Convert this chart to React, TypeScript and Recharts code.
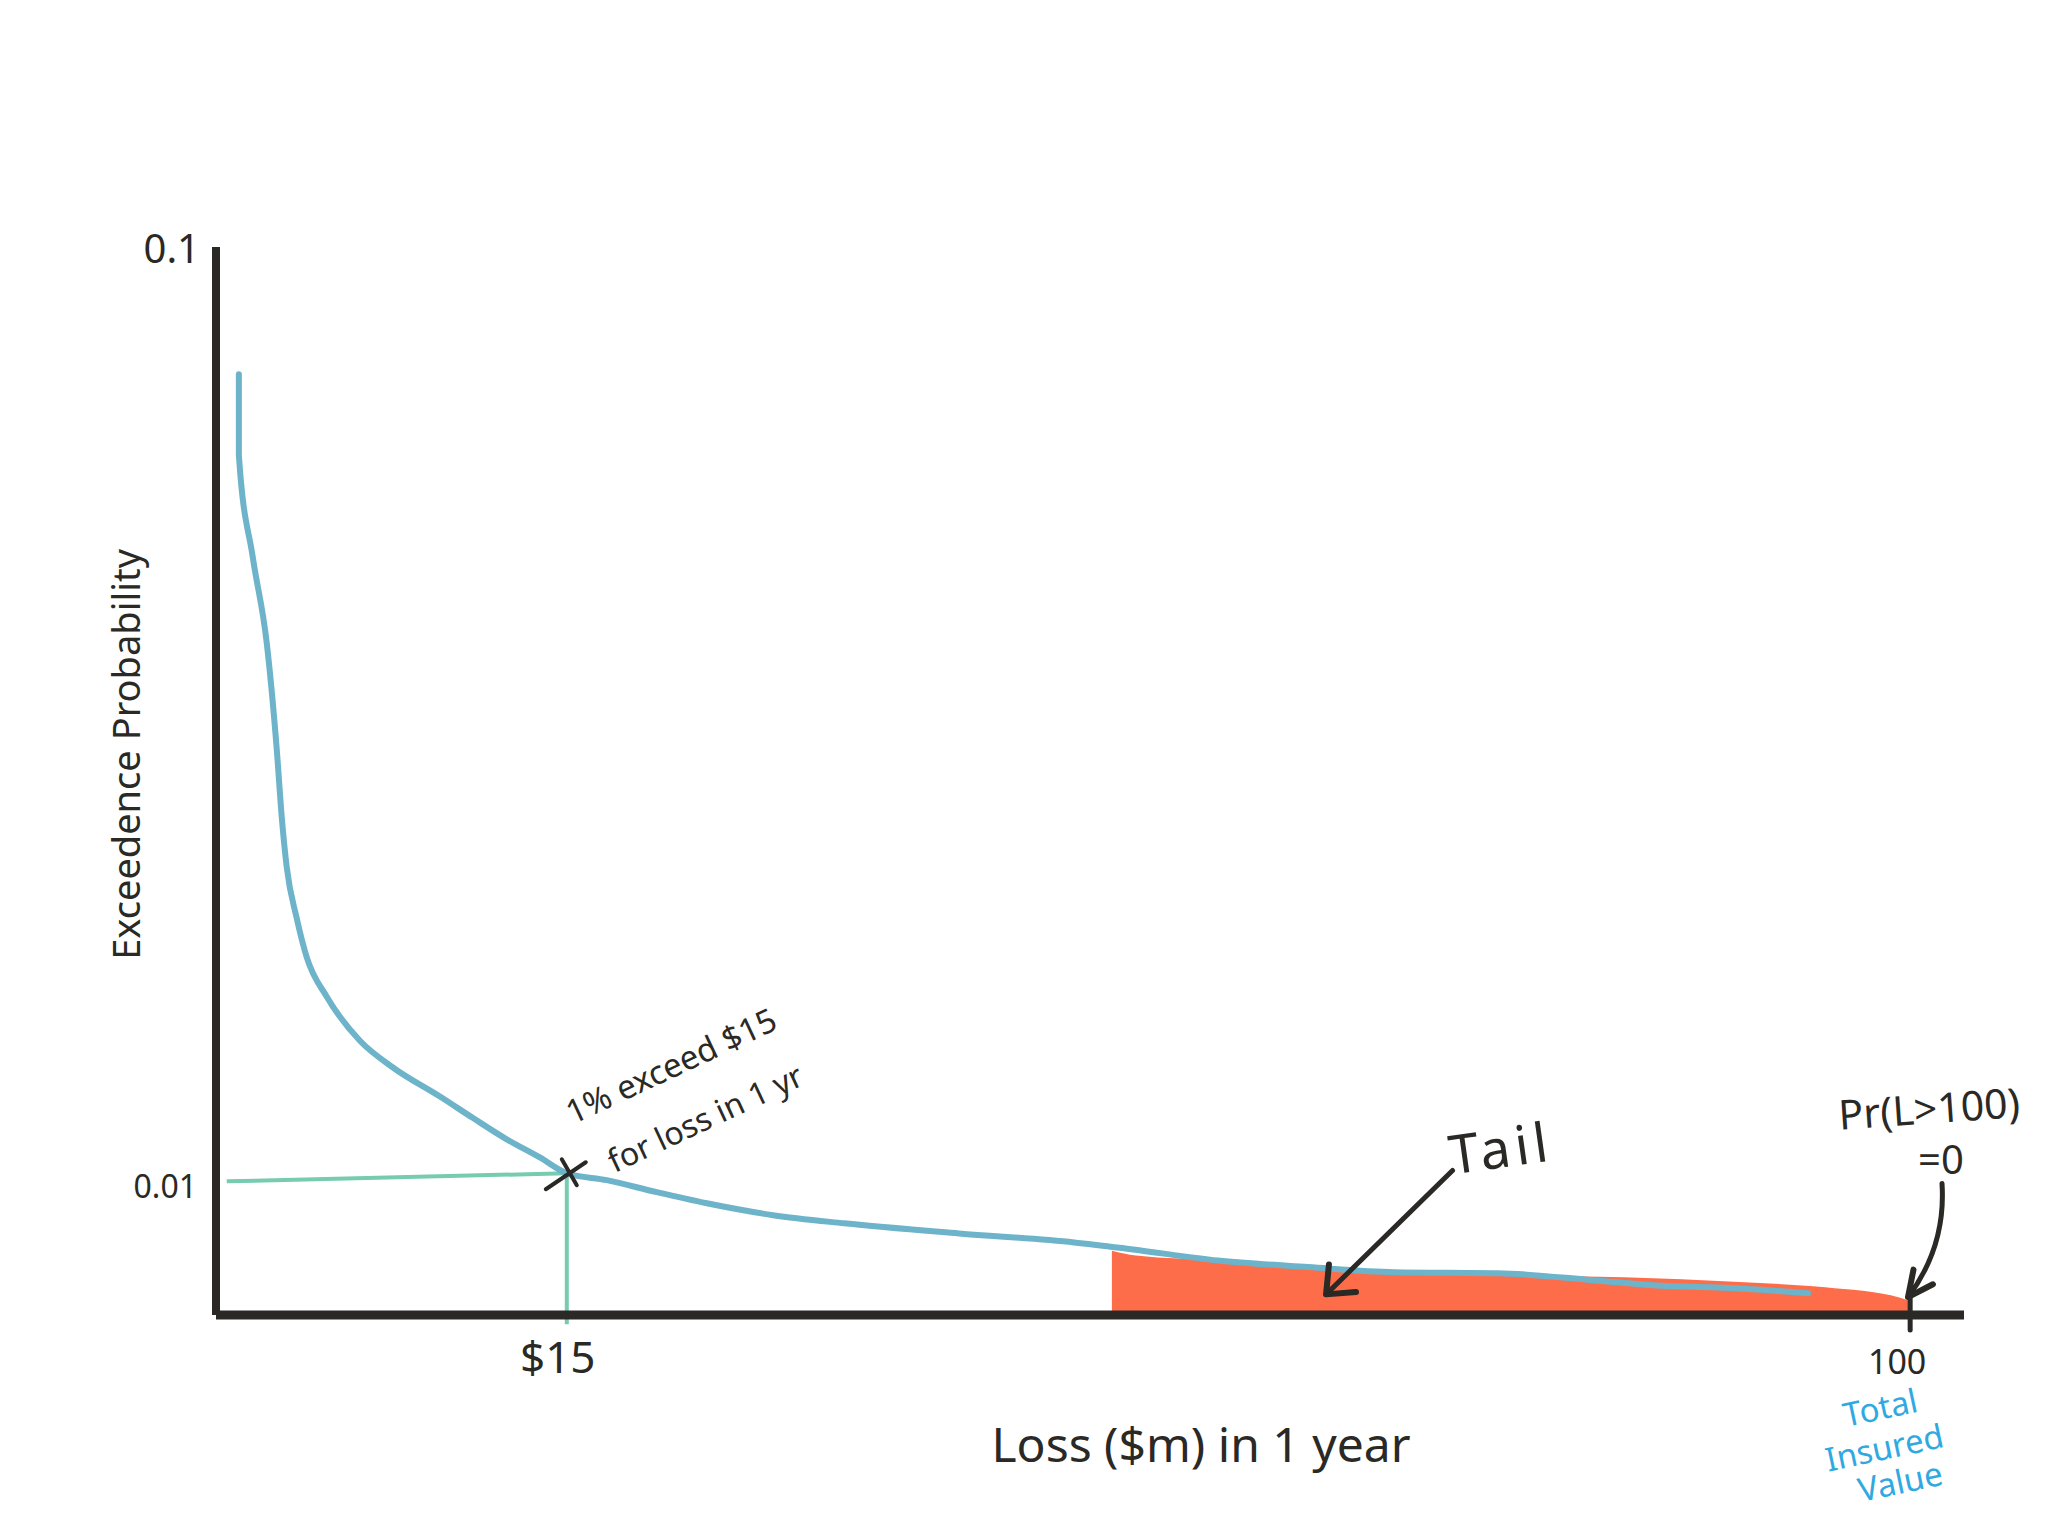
import {
  Area,
  ComposedChart,
  Label,
  Line,
  ReferenceLine,
  Scatter,
  XAxis,
  YAxis,
} from "recharts";

// exceedance curve (loss in $m, log-log axes)
const curveLoss = [
  9.44, 9.44, 9.63, 9.82, 9.96, 10.03, 10.1, 10.24, 10.39, 10.69, 11.2, 11.74,
  12.54, 13.14, 13.78, 14.44, 15, 15.87, 17.03, 18.28, 20.07, 22.19, 26.1,
  30.71, 33.28, 37.63, 42.73, 48.26, 55.89, 64.11, 69.57, 78.56, 86.58,
];
const curveProb = [
  0.0729, 0.0596, 0.0461, 0.0373, 0.0286, 0.0242, 0.0214, 0.0189, 0.0171,
  0.0155, 0.0139, 0.013, 0.0121, 0.01147, 0.01088, 0.0104, 0.01, 0.00983,
  0.00954, 0.00928, 0.00901, 0.00883, 0.00861, 0.00842, 0.00828, 0.00805,
  0.00792, 0.00782, 0.0078, 0.00766, 0.00757, 0.00751, 0.00742,
];

// shaded tail region
const tailLoss = [
  32.39, 33.51, 37.84, 42.73, 48.26, 56.77, 66.77, 78.56, 88.69, 98.6, 99.7,
];
const tailProb = [
  0.00825, 0.00815, 0.00805, 0.00792, 0.00782, 0.00776, 0.00772, 0.00763,
  0.00753, 0.00734, 0.00729,
];

const xTicks = [15, 100];
const xTickLabels = ["$15", "100"];
const yTicks = [0.01, 0.1];
const yTickLabels = ["0.01", "0.1"];

const markLoss = 15;
const markProb = 0.01;
const guideStartLoss = 9.28;
const guideStartProb = 0.0098;
const guideEndProb = 0.00687;

const tailArrow = [
  { x: 52.4, y: 0.01007 },
  { x: 43.83, y: 0.0074 },
];
const zeroArrow = [
  { x: 104.6, y: 0.00975 },
  { x: 99.7, y: 0.00735 },
];

const curveData = curveLoss.map((loss, i) => ({ loss, p: curveProb[i] }));
const tailData = tailLoss.map((loss, i) => ({ loss, p: tailProb[i] }));
const markData = [{ loss: markLoss, p: markProb }];

const INK = "#2a2925";
const FONT = "'Noto Sans', sans-serif";

function arrowHead(tx: number, ty: number, bx: number, by: number, len: number, spread: number) {
  const a = Math.atan2(by - ty, bx - tx);
  const p1 = [tx + len * Math.cos(a - spread), ty + len * Math.sin(a - spread)];
  const p2 = [tx + len * Math.cos(a + spread), ty + len * Math.sin(a + spread)];
  return `M${p1[0]},${p1[1]} L${tx},${ty} L${p2[0]},${p2[1]}`;
}

function TailArrow(props: any) {
  const { x1, y1, x2, y2 } = props;
  return (
    <g>
      <path
        d={`M${x1},${y1} L${x2},${y2}`}
        stroke={INK}
        strokeWidth={5}
        strokeLinecap="round"
        fill="none"
      />
      <path
        d={arrowHead(x2, y2, x1, y1, 30, 0.7)}
        stroke={INK}
        strokeWidth={6}
        strokeLinecap="round"
        strokeLinejoin="round"
        fill="none"
      />
      <text
        x={x1 + 48}
        y={y1 - 24}
        fontSize={54}
        letterSpacing={5}
        fontFamily={FONT}
        fill={INK}
        textAnchor="middle"
        dominantBaseline="central"
        transform={`rotate(-8 ${x1 + 48} ${y1 - 24})`}
      >
        Tail
      </text>
    </g>
  );
}

function ZeroArrow(props: any) {
  const { x1, y1, x2, y2 } = props;
  const dx = x2 - x1;
  const dy = y2 - y1;
  const len = Math.hypot(dx, dy);
  const cx = (x1 + x2) / 2 + (dy / len) * 22;
  const cy = (y1 + y2) / 2 - (dx / len) * 22;
  return (
    <g>
      <path
        d={`M${x1},${y1} Q${cx},${cy} ${x2},${y2}`}
        stroke={INK}
        strokeWidth={5}
        strokeLinecap="round"
        fill="none"
      />
      <path
        d={arrowHead(x2, y2, cx, cy, 28, 0.45)}
        stroke={INK}
        strokeWidth={6}
        strokeLinecap="round"
        strokeLinejoin="round"
        fill="none"
      />
      <text
        x={x1 - 13}
        y={y1 - 76}
        fontSize={41}
        fontFamily={FONT}
        fill={INK}
        textAnchor="middle"
        dominantBaseline="central"
        transform={`rotate(-4 ${x1 - 13} ${y1 - 76})`}
      >
        Pr(L&gt;100)
      </text>
      <text
        x={x1 - 1}
        y={y1 - 25}
        fontSize={40}
        fontFamily={FONT}
        fill={INK}
        textAnchor="middle"
        dominantBaseline="central"
      >
        =0
      </text>
    </g>
  );
}

function CrossMark(props: any) {
  const { cx, cy } = props;
  return (
    <g>
      <path
        d={`M${cx - 21},${cy + 16} L${cx + 19},${cy - 11} M${cx - 5},${cy - 14} L${cx + 10},${cy + 12}`}
        stroke={INK}
        strokeWidth={4}
        strokeLinecap="round"
      />
      <text
        x={cx + 104}
        y={cy - 108}
        fontSize={33}
        fontFamily={FONT}
        fill={INK}
        textAnchor="middle"
        dominantBaseline="central"
        transform={`rotate(-25 ${cx + 104} ${cy - 108})`}
      >
        1% exceed $15
      </text>
      <text
        x={cx + 138}
        y={cy - 56}
        fontSize={32}
        fontFamily={FONT}
        fill={INK}
        textAnchor="middle"
        dominantBaseline="central"
        transform={`rotate(-25 ${cx + 138} ${cy - 56})`}
      >
        for loss in 1 yr
      </text>
    </g>
  );
}

function XTick(props: any) {
  const { x, y, payload } = props;
  const i = xTicks.indexOf(payload.value);
  if (i === 0) {
    return (
      <text
        x={x - 9}
        y={y + 41}
        fontSize={44}
        fontFamily={FONT}
        fill={INK}
        textAnchor="middle"
        dominantBaseline="central"
      >
        {xTickLabels[i]}
      </text>
    );
  }
  const blue = "#30a9e1";
  const lines = ["Total", "Insured", "Value"];
  const offs = [
    [-30, 92],
    [-26, 132],
    [-10, 166],
  ];
  return (
    <g>
      <path d={`M${x},${y - 25} L${x},${y + 15}`} stroke={INK} strokeWidth={5} strokeLinecap="round" />
      <text
        x={x - 13}
        y={y + 46}
        fontSize={34}
        fontFamily={FONT}
        fill={INK}
        textAnchor="middle"
        dominantBaseline="central"
      >
        {xTickLabels[i]}
      </text>
      {lines.map((t, k) => (
        <text
          key={t}
          x={x + offs[k][0]}
          y={y + offs[k][1]}
          fontSize={33}
          fontFamily={FONT}
          fill={blue}
          textAnchor="middle"
          dominantBaseline="central"
          transform={`rotate(-12 ${x + offs[k][0]} ${y + offs[k][1]})`}
        >
          {t}
        </text>
      ))}
    </g>
  );
}

function YTick(props: any) {
  const { x, y, payload } = props;
  const i = yTicks.indexOf(payload.value);
  const top = i === 1;
  return (
    <text
      x={x - (top ? 16 : 19)}
      y={y + (top ? 0 : 12)}
      fontSize={top ? 40 : 32}
      fontFamily={FONT}
      fill={INK}
      textAnchor="end"
      dominantBaseline="central"
    >
      {yTickLabels[i]}
    </text>
  );
}

function XTitle(props: any) {
  const vb = props.viewBox;
  return (
    <text
      x={vb.x + 985}
      y={vb.y + 128}
      fontSize={48}
      fontFamily={FONT}
      fill={INK}
      textAnchor="middle"
      dominantBaseline="central"
    >
      Loss ($m) in 1 year
    </text>
  );
}

function YTitle(props: any) {
  const vb = props.viewBox;
  const cx = vb.x + vb.width - 91;
  const cy = vb.y + vb.height * 0.475;
  return (
    <text
      x={cx}
      y={cy}
      fontSize={38}
      fontFamily={FONT}
      fill={INK}
      textAnchor="middle"
      dominantBaseline="central"
      transform={`rotate(-90 ${cx} ${cy})`}
    >
      Exceedence Probability
    </text>
  );
}

export default function App() {
  return (
    <div
      style={{
        position: "absolute",
        left: 0,
        top: 0,
        width: 2048,
        height: 1536,
        background: "#fff",
      }}
    >
      <ComposedChart
        width={2048}
        height={1536}
        margin={{ top: 247, right: 84, left: 215, bottom: 220 }}
      >
        <Area
          data={tailData}
          dataKey="p"
          type="monotone"
          stroke="none"
          fill="#fe6d4a"
          fillOpacity={1}
          isAnimationActive={false}
        />
        <ReferenceLine
          segment={[
            { x: guideStartLoss, y: guideStartProb },
            { x: markLoss, y: markProb },
          ]}
          stroke="#76cbb0"
          strokeWidth={4}
          ifOverflow="visible"
        />
        <ReferenceLine
          segment={[
            { x: markLoss, y: markProb },
            { x: markLoss, y: guideEndProb },
          ]}
          stroke="#76cbb0"
          strokeWidth={4}
          ifOverflow="visible"
        />
        <Line
          data={curveData}
          dataKey="p"
          type="monotoneX"
          stroke="#6db3ca"
          strokeWidth={6}
          strokeLinecap="round"
          strokeLinejoin="round"
          dot={false}
          isAnimationActive={false}
        />
        <XAxis
          type="number"
          dataKey="loss"
          scale="log"
          domain={[9.14, 107.9]}
          allowDataOverflow
          ticks={xTicks}
          tick={<XTick />}
          tickLine={false}
          tickSize={0}
          tickMargin={0}
          height={1}
          axisLine={{ stroke: INK, strokeWidth: 9 }}
          label={<Label content={<XTitle />} />}
        />
        <YAxis
          type="number"
          dataKey="p"
          scale="log"
          domain={[0.00703, 0.1]}
          allowDataOverflow
          ticks={yTicks}
          tick={<YTick />}
          tickLine={false}
          tickSize={0}
          tickMargin={0}
          width={1}
          axisLine={{ stroke: INK, strokeWidth: 8 }}
          label={<Label content={<YTitle />} />}
        />
        <Scatter
          data={markData}
          dataKey="p"
          shape={<CrossMark />}
          isAnimationActive={false}
        />
        <ReferenceLine
          segment={tailArrow}
          ifOverflow="visible"
          shape={<TailArrow />}
        />
        <ReferenceLine
          segment={zeroArrow}
          ifOverflow="visible"
          shape={<ZeroArrow />}
        />
      </ComposedChart>
    </div>
  );
}
